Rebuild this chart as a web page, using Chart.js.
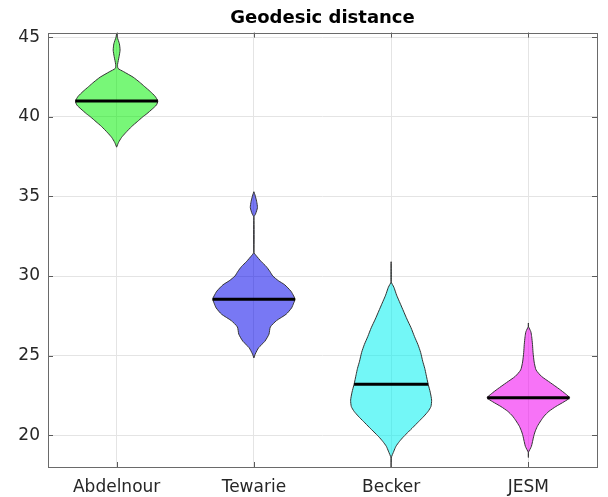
<!DOCTYPE html>
<html>
<head>
<meta charset="utf-8">
<script src="https://cdn.jsdelivr.net/npm/chart.js@4.4.1/dist/chart.umd.min.js"></script>
<style>
  html, body { margin: 0; padding: 0; background: #fff; }
  #wrap { width: 608px; height: 497px; }
</style>
</head>
<body>
<div id="wrap"><canvas id="violinChart"></canvas></div>
<script>
let categories = ["Abdelnour", "Tewarie", "Becker", "JESM"];
let yTicks = [20, 25, 30, 35, 40, 45];
let medians = [41.0, 28.55, 23.2, 22.35];

// density profiles: value levels (bottom to top) and half widths at each level
let abdelnourY = [38.1, 38.4, 38.7, 39.0, 39.4, 39.7, 40.0, 40.2, 40.5, 40.75, 41.0, 41.3, 41.6, 41.9, 42.2, 42.5, 42.85, 43.05, 43.3, 43.8, 44.2, 44.6, 45.0, 45.25];
let abdelnourW = [0, 0.014, 0.035, 0.065, 0.11, 0.15, 0.19, 0.22, 0.26, 0.29, 0.30, 0.28, 0.245, 0.205, 0.165, 0.12, 0.05, 0.01, 0.007, 0.018, 0.025, 0.02, 0.005, 0];

let tewarieY = [24.85, 25.1, 25.5, 25.9, 26.35, 26.8, 27.2, 27.6, 28.0, 28.3, 28.55, 28.75, 29.05, 29.45, 29.7, 30.0, 30.3, 30.6, 30.9, 31.3, 31.5, 33.7, 33.9, 34.3, 34.7, 35.1, 35.3];
let tewarieW = [0, 0.01, 0.035, 0.08, 0.11, 0.12, 0.165, 0.235, 0.275, 0.29, 0.30, 0.29, 0.27, 0.225, 0.18, 0.138, 0.116, 0.09, 0.055, 0.015, 0, 0, 0.012, 0.026, 0.02, 0.008, 0];

let beckerY = [18.0, 18.55, 19.0, 19.3, 19.6, 19.9, 20.2, 20.5, 20.85, 21.2, 21.5, 21.8, 22.2, 22.7, 23.2, 23.8, 24.2, 24.65, 25.2, 25.7, 26.2, 26.75, 27.3, 27.8, 28.3, 28.8, 29.3, 29.65, 30.9];
let beckerW = [0, 0, 0.02, 0.035, 0.06, 0.09, 0.125, 0.16, 0.2, 0.24, 0.27, 0.29, 0.295, 0.285, 0.27, 0.255, 0.245, 0.23, 0.215, 0.195, 0.17, 0.145, 0.115, 0.09, 0.065, 0.04, 0.02, 0, 0];

let jesmY = [18.6, 18.9, 19.3, 19.9, 20.2, 20.55, 20.9, 21.2, 21.5, 21.8, 22.1, 22.35, 22.6, 22.9, 23.3, 23.7, 24.1, 24.6, 25.2, 25.7, 26.2, 26.5, 26.85, 27.05];
let jesmW = [0, 0, 0.022, 0.038, 0.048, 0.065, 0.09, 0.115, 0.15, 0.2, 0.26, 0.30, 0.27, 0.225, 0.16, 0.095, 0.056, 0.042, 0.034, 0.03, 0.024, 0.018, 0, 0];

let profiles = [
  [abdelnourY, abdelnourW],
  [tewarieY, tewarieW],
  [beckerY, beckerW],
  [jesmY, jesmW]
];
let fillColors = [
  "rgba(0, 240, 0, 0.53)",
  "rgba(0, 0, 235, 0.53)",
  "rgba(0, 240, 240, 0.55)",
  "rgba(240, 0, 240, 0.55)"
];

function widthAt(levels, widths, v) {
  for (let i = 1; i < levels.length; i++) {
    if (v <= levels[i]) {
      let t = (v - levels[i - 1]) / (levels[i] - levels[i - 1]);
      return widths[i - 1] + t * (widths[i] - widths[i - 1]);
    }
  }
  return 0;
}

// closed outline: right side going up, left side coming down
function outline(center, levels, widths) {
  let right = levels.map((y, i) => ({ x: center + widths[i], y: y }));
  let left = levels.map((y, i) => ({ x: center - widths[i], y: y })).reverse();
  return right.concat(left, [right[0]]);
}

let datasets = [];
profiles.forEach((p, i) => {
  let center = i + 1;
  let w = widthAt(p[0], p[1], medians[i]);
  datasets.push({
    data: [{ x: center - w, y: medians[i] }, { x: center + w, y: medians[i] }],
    showLine: true,
    borderColor: "#000",
    borderWidth: 3,
    pointRadius: 0,
    fill: false,
    order: 0
  });
  datasets.push({
    data: outline(center, p[0], p[1]),
    showLine: true,
    fill: "shape",
    backgroundColor: fillColors[i],
    borderColor: "#333",
    borderWidth: 1,
    pointRadius: 0,
    tension: 0.2,
    order: 1
  });
});

// axes box with inward tick marks
let boxPlugin = {
  id: "boxPlugin",
  afterDraw(chart) {
    let ctx = chart.ctx;
    let a = chart.chartArea;
    let xs = chart.scales.x;
    let ys = chart.scales.y;
    ctx.save();
    ctx.strokeStyle = "#5a5a5a";
    ctx.lineWidth = 1;
    ctx.beginPath();
    [1, 2, 3, 4].forEach(v => {
      let px = Math.round(xs.getPixelForValue(v)) + 0.5;
      ctx.moveTo(px, a.bottom); ctx.lineTo(px, a.bottom - 5);
      ctx.moveTo(px, a.top); ctx.lineTo(px, a.top + 5);
    });
    yTicks.forEach(v => {
      let py = Math.round(ys.getPixelForValue(v)) + 0.5;
      ctx.moveTo(a.left, py); ctx.lineTo(a.left + 5, py);
      ctx.moveTo(a.right, py); ctx.lineTo(a.right - 5, py);
    });
    ctx.stroke();
    ctx.strokeStyle = "#6a6a6a";
    ctx.strokeRect(Math.round(a.left) + 0.5, Math.round(a.top) + 0.5,
      Math.round(a.right - a.left), Math.round(a.bottom - a.top));
    ctx.restore();
  }
};

let tickFont = { family: "DejaVu Sans", size: 17 };

new Chart(document.getElementById("violinChart").getContext("2d"), {
  type: "scatter",
  data: { datasets: datasets },
  options: {
    responsive: true,
    maintainAspectRatio: false,
    animation: false,
    layout: { padding: { left: 0, right: 11, top: 0, bottom: 0 } },
    plugins: {
      legend: { display: false },
      tooltip: { enabled: false },
      title: {
        display: true,
        fullSize: false,
        text: "Geodesic distance",
        color: "#000",
        font: { family: "DejaVu Sans", size: 18, weight: "bold" },
        padding: { top: 8, bottom: 3 }
      }
    },
    scales: {
      x: {
        type: "linear",
        min: 0.5,
        max: 4.5,
        afterBuildTicks: s => { s.ticks = [1, 2, 3, 4].map(v => ({ value: v })); },
        afterFit: s => { s.height = 30; },
        ticks: {
          callback: v => categories[v - 1],
          color: "#262626",
          font: tickFont,
          padding: 10,
          maxRotation: 0
        },
        grid: { color: "#e4e4e4", drawTicks: false },
        border: { display: false }
      },
      y: {
        min: 18,
        max: 45.3,
        afterBuildTicks: s => { s.ticks = yTicks.map(v => ({ value: v })); },
        afterFit: s => { s.width = 48; },
        ticks: { color: "#262626", font: tickFont, padding: 8 },
        grid: { color: "#e4e4e4", drawTicks: false },
        border: { display: false }
      }
    }
  },
  plugins: [boxPlugin]
});
</script>
</body>
</html>
